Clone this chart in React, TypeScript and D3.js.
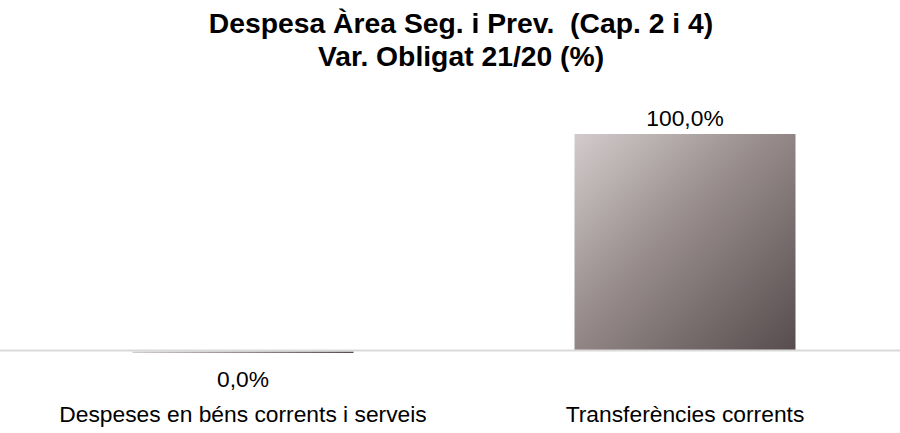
import React from "react";
import * as d3 from "d3";

const categories = ["Despeses en béns corrents i serveis", "Transferències corrents"];
const values = [-0.04, 100];
const valueLabels = ["0,0%", "100,0%"];
const titleLines = ["Despesa Àrea Seg. i Prev.  (Cap. 2 i 4)", "Var. Obligat 21/20 (%)"];

const W = 900;
const H = 433;

export default function App() {
  const x = d3.scaleBand<string>().domain(categories).range([22, 906]).paddingInner(0.5).paddingOuter(0.25);
  const y = d3.scaleLinear().domain([0, 100]).range([350, 134]);
  const font = "'Liberation Sans', Arial, sans-serif";
  return (
    <svg width={W} height={H} style={{ position: "absolute", left: 0, top: 0 }}>
      <defs>
        <linearGradient id="barGrad" x1="0" y1="0" x2="1" y2="1">
          <stop offset="0" stopColor="#d3cccc" />
          <stop offset="0.45" stopColor="#978b8b" />
          <stop offset="1" stopColor="#574d4e" />
        </linearGradient>
        <linearGradient id="barGradH" x1="0" y1="0" x2="1" y2="0">
          <stop offset="0" stopColor="#d3cccc" />
          <stop offset="1" stopColor="#574d4e" />
        </linearGradient>
      </defs>
      <rect width={W} height={H} fill="#fff" />
      <text x={461} y={33} textAnchor="middle" fontFamily={font} fontWeight="bold" fontSize={28.3} style={{ whiteSpace: "pre" }}>
        {titleLines[0]}
      </text>
      <text x={461} y={66} textAnchor="middle" fontFamily={font} fontWeight="bold" fontSize={28.3} style={{ whiteSpace: "pre" }}>
        {titleLines[1]}
      </text>
      {categories.map((c, i) => {
        const v = values[i];
        const y0 = y(0);
        const yv = y(v);
        const top = Math.min(y0, yv);
        const h = Math.max(Math.abs(yv - y0), 1.5);
        const bx = x(c)!;
        return (
          <rect key={c} x={bx} y={v < 0 ? y0 + 1.5 : top} width={x.bandwidth()} height={h}
            fill={v < 0 ? "url(#barGradH)" : "url(#barGrad)"} />
        );
      })}
      <line x1={0} x2={W} y1={y(0) + 0.5} y2={y(0) + 0.5} stroke="#d9d9d9" strokeWidth={2} />
      {categories.map((c, i) => {
        const cx = x(c)! + x.bandwidth() / 2;
        const v = values[i];
        const ly = v < 0 ? y(0) + 37 : y(v) - 8;
        return (
          <text key={c} x={cx} y={ly} textAnchor="middle" fontFamily={font} fontSize={22.8} fill="#000">
            {valueLabels[i]}
          </text>
        );
      })}
      {categories.map((c) => (
        <text key={c} x={x(c)! + x.bandwidth() / 2} y={422} textAnchor="middle" fontFamily={font} fontSize={22.8} fill="#000">
          {c}
        </text>
      ))}
    </svg>
  );
}
